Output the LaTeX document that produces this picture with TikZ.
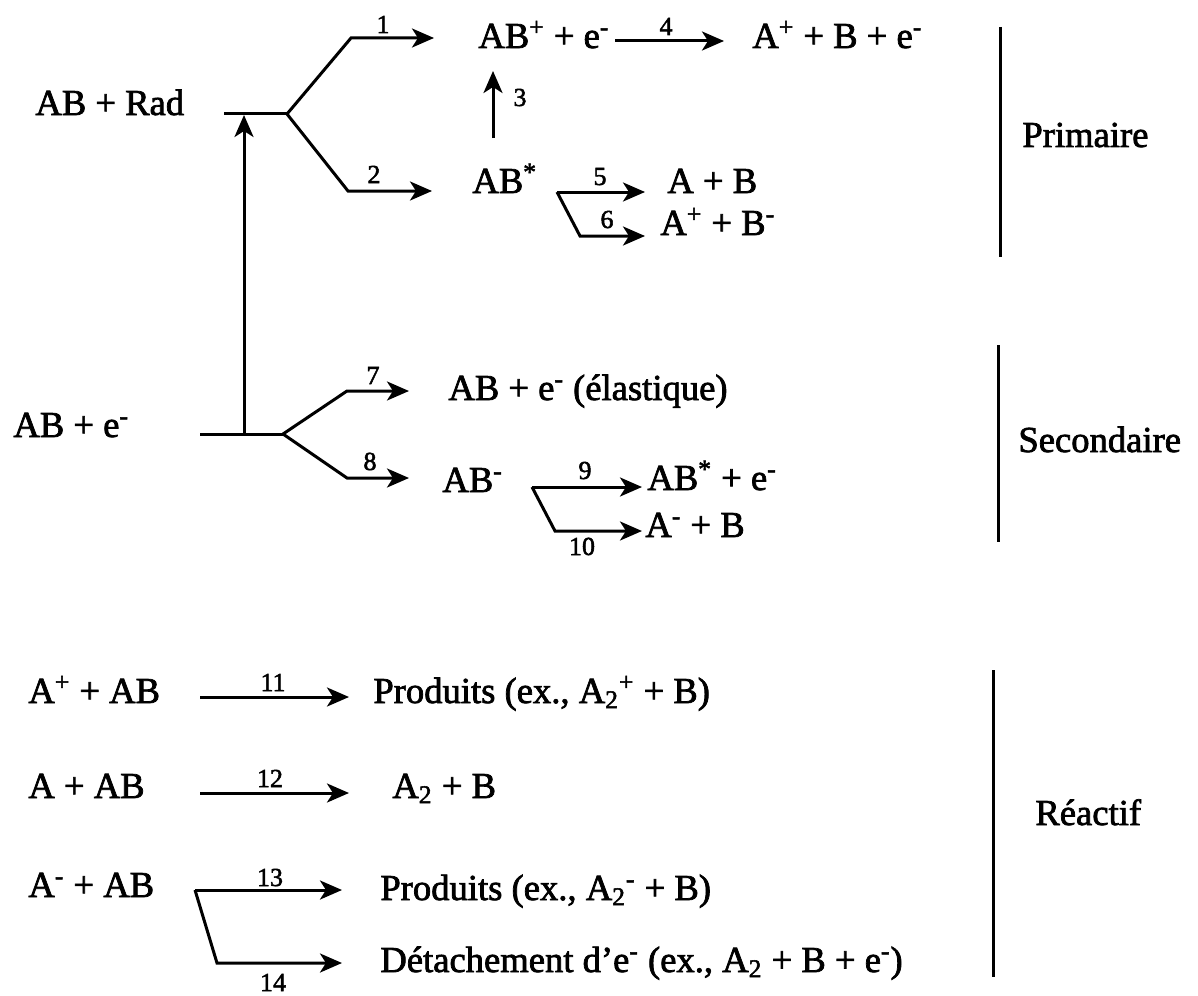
\documentclass[tikz,border=0pt]{standalone}
\usepackage{fontspec}
\setmainfont{Liberation Serif}
\newfontfamily\heavyserif{Liberation Serif}[FakeBold=2]
\usetikzlibrary{arrows.meta}
\begin{document}
\begin{tikzpicture}[x=0.5pt,y=-0.5pt,
  txt/.style={anchor=base west,inner sep=0pt,font=\heavyserif\fontsize{18.3}{22}\selectfont},
  num/.style={anchor=base,inner sep=0pt,font=\heavyserif\fontsize{13}{15}\selectfont},
  ln/.style={line width=1.5pt,line join=miter},
  arr/.style={ln,-{Stealth[length=11pt,width=9.5pt,inset=3pt]}},
  bar/.style={line width=1.5pt}]
\useasboundingbox (0,0) rectangle (1198,995);

% ---- texts ----
\node[txt] (abrad) at (35,115) {AB + Rad};
\node[txt] (abe) at (13,437) {AB + e\textsuperscript{-}};
\node[txt] (abp) at (478,48) {AB\textsuperscript{+} + e\textsuperscript{-}};
\node[txt] (apbe) at (752,48) {A\textsuperscript{+} + B + e\textsuperscript{-}};
\node[txt] (abs) at (472,193) {AB\textsuperscript{*}};
\node[txt] (apb) at (667,193) {A + B};
\node[txt] (apbm) at (660,235) {A\textsuperscript{+} + B\textsuperscript{-}};
\node[txt] (el) at (448,400) {AB + e\textsuperscript{-} (élastique)};
\node[txt] (abm) at (442,492) {AB\textsuperscript{-}};
\node[txt] (abse) at (647,490) {AB\textsuperscript{*} + e\textsuperscript{-}};
\node[txt] (amb) at (645,537) {A\textsuperscript{-} + B};
\node[txt] (r11) at (28,703) {A\textsuperscript{+} + AB};
\node[txt] (p11) at (373,703) {Produits (ex., A\textsubscript{2}\textsuperscript{+} + B)};
\node[txt] (r12) at (28,798) {A + AB};
\node[txt] (p12) at (392,798) {A\textsubscript{2} + B};
\node[txt] (r13) at (28,897) {A\textsuperscript{-} + AB};
\node[txt] (p13) at (380,900) {Produits (ex., A\textsubscript{2}\textsuperscript{-} + B)};
\node[txt] (p14) at (380,972) {Détachement d’e\textsuperscript{-} (ex., A\textsubscript{2} + B + e\textsuperscript{-})};
\node[txt] (prim) at (1022,147) {Primaire};
\node[txt] (sec) at (1018,452) {Secondaire};
\node[txt] (rea) at (1035,825) {Réactif};

% ---- coordinates ----
\coordinate (h1a) at (224,114);
\coordinate (h1b) at (287,114);
\coordinate (c1) at (351,38);
\coordinate (e1) at (434,38);
\coordinate (c2) at (348,191);
\coordinate (e2) at (432,191);
\coordinate (h2a) at (200,434);
\coordinate (h2b) at (283,434);
\coordinate (c7) at (347,391);
\coordinate (e7) at (409,391);
\coordinate (c8) at (347,478);
\coordinate (e8) at (409,478);
\coordinate (v0) at (244,434);
\coordinate (v1) at (244,115);
\coordinate (s3) at (493,138);
\coordinate (t3) at (493,71);
\coordinate (s4) at (615,41);
\coordinate (t4) at (724,41);
\coordinate (s5) at (557,192);
\coordinate (t5) at (645,192);
\coordinate (k6) at (580,236);
\coordinate (t6) at (645,236);
\coordinate (s9) at (532,487);
\coordinate (t9) at (642,487);
\coordinate (k10) at (555,531);
\coordinate (t10) at (642,531);
\coordinate (s11) at (200,697);
\coordinate (t11) at (349,697);
\coordinate (s12) at (200,793);
\coordinate (t12) at (349,793);
\coordinate (s13) at (195,890);
\coordinate (t13) at (342,890);
\coordinate (k14) at (217,963);
\coordinate (t14) at (342,963);

% ---- connectors ----
\draw[ln] (h1a) -- (h1b);
\draw[arr] (h1b) -- (c1) -- (e1);
\draw[arr] (h1b) -- (c2) -- (e2);
\draw[ln] (h2a) -- (h2b);
\draw[arr] (h2b) -- (c7) -- (e7);
\draw[arr] (h2b) -- (c8) -- (e8);
\draw[arr] (v0) -- (v1);
\draw[arr] (s3) -- (t3);
\draw[arr] (s4) -- (t4);
\draw[arr] (s5) -- (t5);
\draw[arr] (s5) -- (k6) -- (t6);
\draw[arr] (s9) -- (t9);
\draw[arr] (s9) -- (k10) -- (t10);
\draw[arr] (s11) -- (t11);
\draw[arr] (s12) -- (t12);
\draw[arr] (s13) -- (t13);
\draw[arr] (s13) -- (k14) -- (t14);

% ---- labels ----
\node[num] (l1) at (383,33) {1};
\node[num] (l2) at (374,183) {2};
\node[num] (l3) at (520,106) {3};
\node[num] (l4) at (666,35) {4};
\node[num] (l5) at (600,185) {5};
\node[num] (l6) at (607,228) {6};
\node[num] (l7) at (373,384) {7};
\node[num] (l8) at (370,470) {8};
\node[num] (l9) at (585,479) {9};
\node[num] (l10) at (582,555) {10};
\node[num] (l11) at (273,691) {11};
\node[num] (l12) at (270,787) {12};
\node[num] (l13) at (270,886) {13};
\node[num] (l14) at (273,991) {14};

% ---- group bars ----
\draw[bar] (1000,27) -- (1000,257);
\draw[bar] (998,345) -- (998,542);
\draw[bar] (993,670) -- (993,977);
\end{tikzpicture}
\end{document}
